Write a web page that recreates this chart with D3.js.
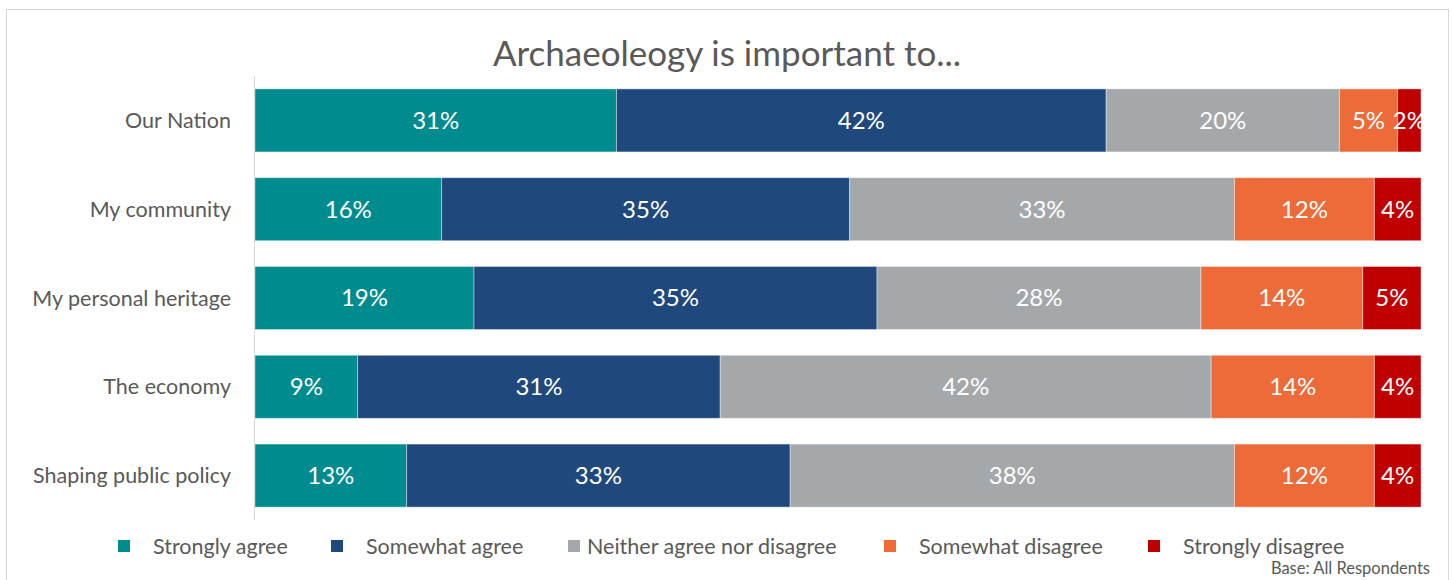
<!DOCTYPE html>
<html>
<head>
<meta charset="utf-8">
<script src="https://cdn.jsdelivr.net/npm/d3@7"></script>
<style>
  body { margin: 0; background: #fff; }
  svg { font-family: Lato, "Open Sans", sans-serif; }
</style>
</head>
<body>
<div id="chart"></div>
<script>
"use strict";

// data
var categories = ["Our Nation", "My community", "My personal heritage", "The economy", "Shaping public policy"];
var seriesNames = ["Strongly agree", "Somewhat agree", "Neither agree nor disagree", "Somewhat disagree", "Strongly disagree"];
var seriesColors = ["#008B8F", "#1F497D", "#A5A8AB", "#ED6B38", "#C00000"];
var stronglyAgree = [31, 16, 18.8, 8.8, 13];
var somewhatAgree = [42, 35, 34.6, 31.1, 32.9];
var neither = [20, 33, 27.8, 42.1, 38.1];
var somewhatDisagree = [5, 12, 13.9, 14, 12];
var stronglyDisagree = [2, 4, 5, 4, 4];

var width = 1452, height = 580;
var margin = { top: 76, left: 255, right: 31, bottom: 60 };

var svg = d3.select("#chart").append("svg")
    .attr("width", width)
    .attr("height", height);

// outer frame
svg.append("rect")
    .attr("x", 6.5).attr("y", 9.5)
    .attr("width", 1442).attr("height", 590)
    .attr("fill", "none").attr("stroke", "#D9D9D9");

// title
svg.append("text")
    .attr("x", 727).attr("y", 66)
    .attr("text-anchor", "middle")
    .attr("font-size", 35)
    .attr("fill", "#595959")
    .text("Archaeoleogy is important to...");

var rows = categories.map(function (c, i) {
    return {
        name: c,
        values: [stronglyAgree[i], somewhatAgree[i], neither[i], somewhatDisagree[i], stronglyDisagree[i]]
    };
});

var stack = d3.stack()
    .keys(d3.range(seriesNames.length))
    .value(function (d, k) { return d.values[k]; })
    .offset(d3.stackOffsetExpand);

var layers = stack(rows);

var xScale = d3.scaleLinear()
    .domain([0, 1])
    .range([margin.left, width - margin.right]);

var yScale = d3.scaleBand()
    .domain(categories)
    .range([margin.top, height - margin.bottom])
    .paddingInner(0.29)
    .paddingOuter(0.145);

// bars
var g = svg.append("g");
layers.forEach(function (layer, k) {
    var lg = g.append("g").attr("fill", seriesColors[k]);
    lg.selectAll("rect")
        .data(layer)
        .enter()
        .append("rect")
        .attr("x", function (d) { return xScale(d[0]); })
        .attr("y", function (d) { return yScale(d.data.name); })
        .attr("width", function (d) { return xScale(d[1]) - xScale(d[0]); })
        .attr("height", yScale.bandwidth())
        .attr("stroke", "#fff")
        .attr("stroke-opacity", 0.4)
        .attr("stroke-width", 1);

    lg.selectAll("text")
        .data(layer)
        .enter()
        .append("text")
        .attr("x", function (d) { return (xScale(d[0]) + xScale(d[1])) / 2; })
        .attr("y", function (d) { return yScale(d.data.name) + yScale.bandwidth() / 2; })
        .attr("dy", "0.35em")
        .attr("text-anchor", "middle")
        .attr("font-size", 24)
        .attr("fill", "#fff")
        .text(function (d) { return Math.round(d.data.values[k]) + "%"; });
});

// vertical axis line
svg.append("line")
    .attr("x1", margin.left - 0.5).attr("x2", margin.left - 0.5)
    .attr("y1", margin.top).attr("y2", height - margin.bottom)
    .attr("stroke", "#D9D9D9");

// category labels
svg.append("g").selectAll("text")
    .data(categories)
    .enter()
    .append("text")
    .attr("x", 231)
    .attr("y", function (d) { return yScale(d) + yScale.bandwidth() / 2; })
    .attr("dy", "0.35em")
    .attr("text-anchor", "end")
    .attr("font-size", 21.5)
    .attr("fill", "#595959")
    .text(function (d) { return d; });

// legend
var legendX = [118, 331, 568, 884, 1148];
var legend = svg.append("g").selectAll("g")
    .data(seriesNames)
    .enter()
    .append("g")
    .attr("transform", function (d, i) { return "translate(" + legendX[i] + ",546)"; });

legend.append("rect")
    .attr("x", 0).attr("y", -6)
    .attr("width", 12).attr("height", 12)
    .attr("fill", function (d, i) { return seriesColors[i]; });

legend.append("text")
    .attr("x", function (d, i) { return i === 2 ? 19 : 35; })
    .attr("dy", "0.35em")
    .attr("font-size", 21.5)
    .attr("fill", "#595959")
    .text(function (d) { return d; });

// footnote
svg.append("text")
    .attr("x", 1430).attr("y", 574)
    .attr("text-anchor", "end")
    .attr("font-size", 16.5)
    .attr("fill", "#595959")
    .text("Base: All Respondents");
</script>
</body>
</html>
